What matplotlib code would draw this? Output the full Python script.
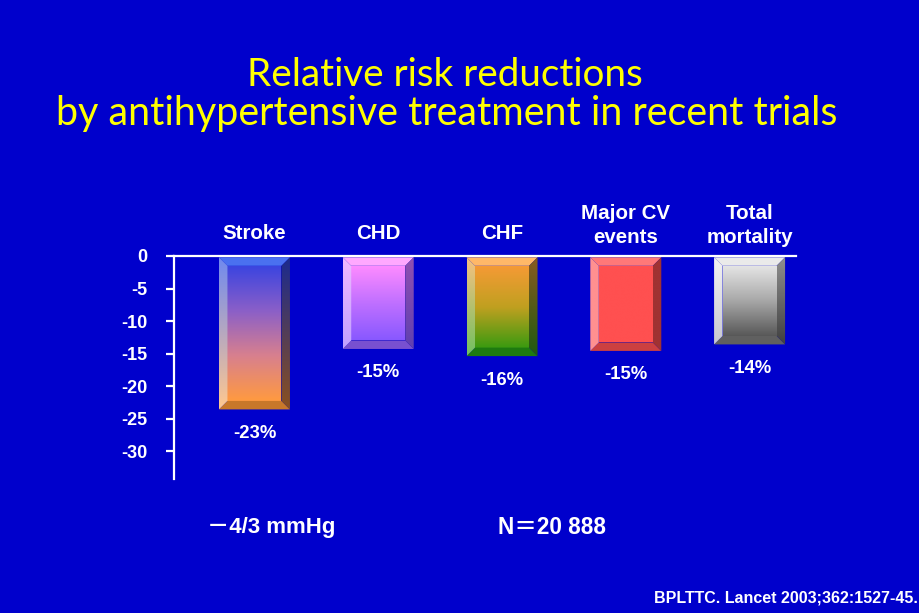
import numpy as np
import matplotlib
matplotlib.use("Agg")
import matplotlib.pyplot as plt
from matplotlib.patches import Polygon
from matplotlib.colors import LinearSegmentedColormap

# ---------------- data ----------------
categories = ["Stroke", "CHD", "CHF", "Major CV\nevents", "Total\nmortality"]
values = [-23.6, -14.3, -15.4, -14.6, -13.6]
value_labels = ["-23%", "-15%", "-16%", "-15%", "-14%"]
yticks = [0, -5, -10, -15, -20, -25, -30]
title_lines = ["Relative risk reductions",
               "by antihypertensive treatment in recent trials"]
note_left = "\uFF0D4/3 mmHg"
note_right = "N\uFF1D20 888"
citation = "BPLTTC. Lancet 2003;362:1527-45."

# colour styles per bar: face stops, top bevel, left (top,bottom), right (top,bottom), bottom bevel
styles = [
    dict(face=["#3A44E0", "#8A5FC8", "#D8808E", "#FF9A40"], top="#4A70F0",
         left=("#6E88F0", "#FFC890"), right=("#1A2A90", "#8A5020"), bottom="#C8782A"),
    dict(face=["#FF8CFF", "#C070FF", "#8858FF"], top="#FFA8FF",
         left=("#F0B8FF", "#C0A0FF"), right=("#9050B0", "#6040B0"), bottom="#7850D0"),
    dict(face=["#F59A35", "#C0A020", "#3A9A10"], top="#FFB868",
         left=("#F8C080", "#70C060"), right=("#8A5A20", "#1E5A10"), bottom="#1E7A10"),
    dict(face=["#FF5050", "#FF5050"], top="#FF7878",
         left=("#FF9090", "#FF9090"), right=("#A03232", "#A03232"), bottom="#CC4040"),
    dict(face=["#E6E6E6", "#A8A8A8", "#585858"], top="#EAEAEA",
         left=("#F4F4F4", "#C8C8D0"), right=("#909090", "#404040"), bottom="#606060"),
]

BG = "#0000CC"
W, H = 920, 613
fig = plt.figure(figsize=(W / 100, H / 100), dpi=100, facecolor=BG)

# axes placement (pixels)
ax_l, ax_r, ax_t, ax_b = 174, 796, 256, 479
ax = fig.add_axes([ax_l / W, 1 - ax_b / H, (ax_r - ax_l) / W, (ax_b - ax_t) / H])
ax.set_facecolor(BG)
xlim = (-0.65, 4.375)
ylim = (-34.3, 0)
ax.set_xlim(*xlim)
ax.set_ylim(*ylim)
ax.set_autoscale_on(False)

px_per_x = (ax_r - ax_l) / (xlim[1] - xlim[0])
px_per_y = (ax_b - ax_t) / (ylim[1] - ylim[0])
bev = 8.5
bx = bev / px_per_x
by = bev / px_per_y
bar_w = 71.0 / px_per_x

positions = np.arange(len(categories))
bars = ax.bar(positions, values, width=bar_w, color="none", edgecolor="none")


def grad_poly(verts, colors, ytop, ybot):
    poly = Polygon(verts, closed=True, facecolor="none", edgecolor="none")
    ax.add_patch(poly)
    xs = [v[0] for v in verts]
    cmap = LinearSegmentedColormap.from_list("g", colors)
    arr = np.linspace(0, 1, 256).reshape(-1, 1)
    im = ax.imshow(arr, cmap=cmap, aspect="auto", interpolation="bilinear",
                   extent=(min(xs), max(xs), ybot, ytop), origin="upper", zorder=2)
    im.set_clip_path(poly)


for rect, st in zip(bars, styles):
    x0 = rect.get_x()
    x1 = x0 + rect.get_width()
    y0 = -0.2
    y1 = rect.get_height()  # negative
    # face
    face = [(x0 + bx, y0 - by), (x1 - bx, y0 - by), (x1 - bx, y1 + by), (x0 + bx, y1 + by)]
    grad_poly(face, st["face"], y0 - by, y1 + by)
    # top bevel
    ax.add_patch(Polygon([(x0, y0), (x1, y0), (x1 - bx, y0 - by), (x0 + bx, y0 - by)],
                         facecolor=st["top"], edgecolor="none", zorder=2))
    # bottom bevel
    ax.add_patch(Polygon([(x0, y1), (x1, y1), (x1 - bx, y1 + by), (x0 + bx, y1 + by)],
                         facecolor=st["bottom"], edgecolor="none", zorder=2))
    # left bevel
    grad_poly([(x0, y0), (x0 + bx, y0 - by), (x0 + bx, y1 + by), (x0, y1)],
              list(st["left"]), y0, y1)
    # right bevel
    grad_poly([(x1, y0), (x1 - bx, y0 - by), (x1 - bx, y1 + by), (x1, y1)],
              list(st["right"]), y0, y1)

# axes styling
for s in ["right", "bottom"]:
    ax.spines[s].set_visible(False)
for s in ["left", "top"]:
    ax.spines[s].set_color("white")
    ax.spines[s].set_linewidth(1.6)
    ax.spines[s].set_zorder(5)
ax.set_xticks([])
ax.set_yticks(yticks)
ax.set_yticklabels([str(t) for t in yticks])
ax.tick_params(axis="y", colors="white", length=6, width=1.6, direction="out", pad=13)
for lab in ax.get_yticklabels():
    lab.set_fontfamily("Liberation Sans")
    lab.set_fontweight("bold")
    lab.set_fontsize(13)
    lab.set_color("white")

# category labels above the axis
for p, c in zip(positions, categories):
    dy = 22.0 if "\n" in c else 16.2
    ax.annotate(c, xy=(p, 0), xytext=(0, dy), textcoords="offset points",
                ha="center", va="center", color="white", fontsize=14.8,
                fontweight="bold", family="Liberation Sans", linespacing=1.35,
                annotation_clip=False)

# value labels below the bars
for p, v, lab in zip(positions, values, value_labels):
    ax.annotate(lab, xy=(p, v), xytext=(0, -17.3), textcoords="offset points",
                ha="center", va="center", color="white", fontsize=13.3,
                fontweight="bold", family="Liberation Sans", annotation_clip=False)

# title
fam_title = ["Lato", "DejaVu Sans"]
t1 = fig.text(445 / W, 1 - 75 / H, title_lines[0], ha="center", va="center",
              color="#FFFF00", fontsize=26, family=fam_title)
t2 = fig.text(447 / W, 1 - 113 / H, title_lines[1], ha="center", va="center",
              color="#FFFF00", fontsize=26, family=fam_title)
fig.canvas.draw()
r = fig.canvas.get_renderer()
for t, target in [(t1, 394), (t2, 781)]:
    w = t.get_window_extent(r).width
    t.set_fontsize(26 * target / w)

# bottom notes
fam_note = ["Liberation Sans", "Noto Sans CJK SC"]
fig.text(207 / W, 1 - 528 / H, note_left, ha="left", va="center", color="white",
         fontsize=16, fontweight="bold", family=fam_note)
fig.text(498 / W, 1 - 528 / H, note_right, ha="left", va="center", color="white",
         fontsize=16.3, fontweight="bold", family=fam_note)
fig.text(918 / W, 1 - 598 / H, citation, ha="right", va="center", color="white",
         fontsize=11.5, fontweight="bold", family="Liberation Sans")

fig.savefig("out.png", dpi=100, facecolor=BG)
